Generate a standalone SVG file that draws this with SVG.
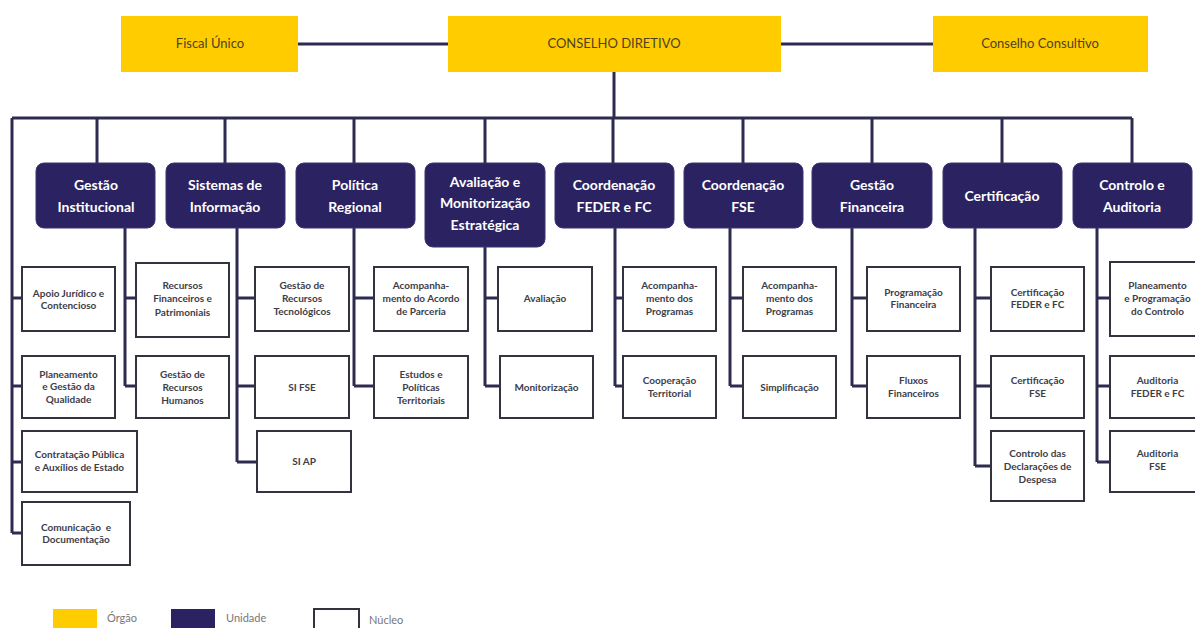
<svg xmlns="http://www.w3.org/2000/svg" width="1195" height="628" viewBox="0 0 1195 628">
<style>
.org{fill:#FFCC00}
.orgt{font-family:Lato,"Liberation Sans",sans-serif;font-size:13px;fill:#4d4222;text-anchor:middle}
.uni{fill:#2B2361;stroke:#3a3470;stroke-width:1}
.unit{font-family:Lato,"Liberation Sans",sans-serif;font-size:14px;font-weight:bold;fill:#ffffff;text-anchor:middle}
.nuc{fill:#ffffff;stroke:#333340;stroke-width:2}
.nuct{font-family:Lato,"Liberation Sans",sans-serif;font-size:10px;font-weight:bold;fill:#3d3d4a;text-anchor:middle}
.con{fill:none;stroke:#2e2b50;stroke-width:3}
.leg{font-family:Lato,"Liberation Sans",sans-serif;font-size:11px;fill:#777777}
</style>
<rect width="1195" height="628" fill="#ffffff"/>
<g id="connectors">
<path class="con" d="M298 44H448M781 44H933M614 72V118M12 118H1132"/>
<path class="con" d="M97 118V163M225 118V163M354 118V163M485 118V163M613 118V163M743 118V163M872 118V163M1002 118V163M1132 118V163"/>
<path class="con" d="M12 118V533M12 298H22M12 386H22M12 462H22M12 533H22"/>
<path class="con" d="M125 228V386M125 298H136M125 386H136"/>
<path class="con" d="M237 228V462M237 298H255M237 386H255M237 462H257"/>
<path class="con" d="M354 228V386M354 298H374M354 386H374"/>
<path class="con" d="M485 247V386M485 298H498M485 386H500"/>
<path class="con" d="M615 228V386M615 298H623M615 386H623"/>
<path class="con" d="M730 228V386M730 298H743M730 386H743"/>
<path class="con" d="M852 228V386M852 298H867M852 386H867"/>
<path class="con" d="M975 228V466M975 298H991M975 386H991M975 466H991"/>
<path class="con" d="M1097 228V462M1097 298H1110M1097 386H1110M1097 462H1110"/>
</g>
<g id="fiscal-unico"><rect class="org" x="121" y="16" width="177" height="56"/><text class="orgt" x="210" y="48">Fiscal Único</text></g>
<g id="conselho-diretivo"><rect class="org" x="448" y="16" width="333" height="56"/><text class="orgt" x="614" y="48">CONSELHO DIRETIVO</text></g>
<g id="conselho-consultivo"><rect class="org" x="933" y="16" width="215" height="56"/><text class="orgt" x="1040" y="48">Conselho Consultivo</text></g>

<g id="u-gestao-institucional"><rect class="uni" x="36" y="163" width="119" height="65" rx="8"/><text class="unit" x="96" y="190">Gestão</text><text class="unit" x="96" y="212">Institucional</text></g>
<g id="u-sistemas-informacao"><rect class="uni" x="166" y="163" width="119" height="65" rx="8"/><text class="unit" x="225" y="190">Sistemas de</text><text class="unit" x="225" y="212">Informação</text></g>
<g id="u-politica-regional"><rect class="uni" x="296" y="163" width="119" height="65" rx="8"/><text class="unit" x="355" y="190">Política</text><text class="unit" x="355" y="212">Regional</text></g>
<g id="u-avaliacao"><rect class="uni" x="425" y="163" width="120" height="84" rx="8"/><text class="unit" x="485" y="187">Avaliação e</text><text class="unit" x="485" y="208">Monitorização</text><text class="unit" x="485" y="230">Estratégica</text></g>
<g id="u-coord-feder"><rect class="uni" x="555" y="163" width="119" height="65" rx="8"/><text class="unit" x="614" y="190">Coordenação</text><text class="unit" x="614" y="212">FEDER e FC</text></g>
<g id="u-coord-fse"><rect class="uni" x="684" y="163" width="119" height="65" rx="8"/><text class="unit" x="743" y="190">Coordenação</text><text class="unit" x="743" y="212">FSE</text></g>
<g id="u-gestao-financeira"><rect class="uni" x="812" y="163" width="120" height="65" rx="8"/><text class="unit" x="872" y="190">Gestão</text><text class="unit" x="872" y="212">Financeira</text></g>
<g id="u-certificacao"><rect class="uni" x="943" y="163" width="119" height="65" rx="8"/><text class="unit" x="1002" y="201">Certificação</text></g>
<g id="u-controlo-auditoria"><rect class="uni" x="1073" y="163" width="119" height="65" rx="8"/><text class="unit" x="1132" y="190">Controlo e</text><text class="unit" x="1132" y="212">Auditoria</text></g>

<g id="n-apoio-juridico"><rect class="nuc" x="22" y="267" width="93" height="64"/><text class="nuct" x="68.5" y="296.5">Apoio Jurídico e</text><text class="nuct" x="68.5" y="308.5">Contencioso</text></g>
<g id="n-planeamento-qualidade"><rect class="nuc" x="22" y="356" width="93" height="62"/><text class="nuct" x="68.5" y="377.5">Planeamento</text><text class="nuct" x="68.5" y="390">e Gestão da</text><text class="nuct" x="68.5" y="402.5">Qualidade</text></g>
<g id="n-contratacao"><rect class="nuc" x="22" y="431" width="115" height="61"/><text class="nuct" x="79.5" y="458">Contratação Pública</text><text class="nuct" x="79.5" y="471">e Auxílios de Estado</text></g>
<g id="n-comunicacao"><rect class="nuc" x="22" y="502" width="108" height="63"/><text class="nuct" x="76" y="530.5" xml:space="preserve">Comunicação  e</text><text class="nuct" x="76" y="542.5">Documentação</text></g>

<g id="n-recursos-financeiros"><rect class="nuc" x="136" y="263" width="93" height="74"/><text class="nuct" x="182.5" y="288.5">Recursos</text><text class="nuct" x="182.5" y="302">Financeiros e</text><text class="nuct" x="182.5" y="315.5">Patrimoniais</text></g>
<g id="n-recursos-humanos"><rect class="nuc" x="136" y="356" width="93" height="62"/><text class="nuct" x="182.5" y="377.5">Gestão de</text><text class="nuct" x="182.5" y="390.5">Recursos</text><text class="nuct" x="182.5" y="403.5">Humanos</text></g>

<g id="n-recursos-tecnologicos"><rect class="nuc" x="255" y="267" width="94" height="64"/><text class="nuct" x="302" y="288.5">Gestão de</text><text class="nuct" x="302" y="301.5">Recursos</text><text class="nuct" x="302" y="314.5">Tecnológicos</text></g>
<g id="n-si-fse"><rect class="nuc" x="255" y="356" width="94" height="62"/><text class="nuct" x="302" y="390.5">SI FSE</text></g>
<g id="n-si-ap"><rect class="nuc" x="257" y="431" width="94" height="61"/><text class="nuct" x="304" y="464.5">SI AP</text></g>

<g id="n-acordo-parceria"><rect class="nuc" x="374" y="267" width="94" height="64"/><text class="nuct" x="421" y="288.5">Acompanha-</text><text class="nuct" x="421" y="301.5">mento do Acordo</text><text class="nuct" x="421" y="314.5">de Parceria</text></g>
<g id="n-estudos"><rect class="nuc" x="374" y="356" width="94" height="62"/><text class="nuct" x="421" y="377.5">Estudos e</text><text class="nuct" x="421" y="390.5">Políticas</text><text class="nuct" x="421" y="403.5">Territoriais</text></g>

<g id="n-avaliacao"><rect class="nuc" x="498" y="267" width="94" height="64"/><text class="nuct" x="545" y="301.5">Avaliação</text></g>
<g id="n-monitorizacao"><rect class="nuc" x="500" y="356" width="93" height="62"/><text class="nuct" x="546.5" y="390.5">Monitorização</text></g>

<g id="n-acomp-feder"><rect class="nuc" x="623" y="267" width="93" height="64"/><text class="nuct" x="669.5" y="288.5">Acompanha-</text><text class="nuct" x="669.5" y="301.5">mento dos</text><text class="nuct" x="669.5" y="314.5">Programas</text></g>
<g id="n-cooperacao"><rect class="nuc" x="623" y="356" width="93" height="62"/><text class="nuct" x="669.5" y="383.5">Cooperação</text><text class="nuct" x="669.5" y="396.5">Territorial</text></g>

<g id="n-acomp-fse"><rect class="nuc" x="743" y="267" width="93" height="64"/><text class="nuct" x="789.5" y="288.5">Acompanha-</text><text class="nuct" x="789.5" y="301.5">mento dos</text><text class="nuct" x="789.5" y="314.5">Programas</text></g>
<g id="n-simplificacao"><rect class="nuc" x="743" y="356" width="93" height="62"/><text class="nuct" x="789.5" y="390.5">Simplificação</text></g>

<g id="n-programacao-financeira"><rect class="nuc" x="867" y="267" width="93" height="64"/><text class="nuct" x="913.5" y="295.5">Programação</text><text class="nuct" x="913.5" y="308">Financeira</text></g>
<g id="n-fluxos"><rect class="nuc" x="867" y="356" width="93" height="62"/><text class="nuct" x="913.5" y="383.5">Fluxos</text><text class="nuct" x="913.5" y="396.5">Financeiros</text></g>

<g id="n-cert-feder"><rect class="nuc" x="991" y="267" width="93" height="64"/><text class="nuct" x="1037.5" y="295.5">Certificação</text><text class="nuct" x="1037.5" y="308">FEDER e FC</text></g>
<g id="n-cert-fse"><rect class="nuc" x="991" y="356" width="93" height="62"/><text class="nuct" x="1037.5" y="383.5">Certificação</text><text class="nuct" x="1037.5" y="396.5">FSE</text></g>
<g id="n-controlo-declaracoes"><rect class="nuc" x="991" y="431" width="93" height="70"/><text class="nuct" x="1037.5" y="457">Controlo das</text><text class="nuct" x="1037.5" y="470">Declarações de</text><text class="nuct" x="1037.5" y="483">Despesa</text></g>

<g id="n-planeamento-controlo"><rect class="nuc" x="1110" y="262" width="95" height="74"/><text class="nuct" x="1157.5" y="288.5">Planeamento</text><text class="nuct" x="1157.5" y="302">e Programação</text><text class="nuct" x="1157.5" y="315">do Controlo</text></g>
<g id="n-auditoria-feder"><rect class="nuc" x="1110" y="356" width="95" height="62"/><text class="nuct" x="1157.5" y="383.5">Auditoria</text><text class="nuct" x="1157.5" y="396.5">FEDER e FC</text></g>
<g id="n-auditoria-fse"><rect class="nuc" x="1110" y="431" width="95" height="61"/><text class="nuct" x="1157.5" y="457">Auditoria</text><text class="nuct" x="1157.5" y="470">FSE</text></g>

<g id="legend">
<rect x="53" y="609" width="44" height="22" fill="#FFCC00"/>
<text class="leg" x="107" y="622">Órgão</text>
<rect x="171" y="609" width="44" height="22" fill="#2B2361"/>
<text class="leg" x="226" y="622">Unidade</text>
<rect x="314" y="609" width="45" height="22" fill="#ffffff" stroke="#333340" stroke-width="2"/>
<text class="leg" x="369" y="624">Núcleo</text>
</g>
</svg>
